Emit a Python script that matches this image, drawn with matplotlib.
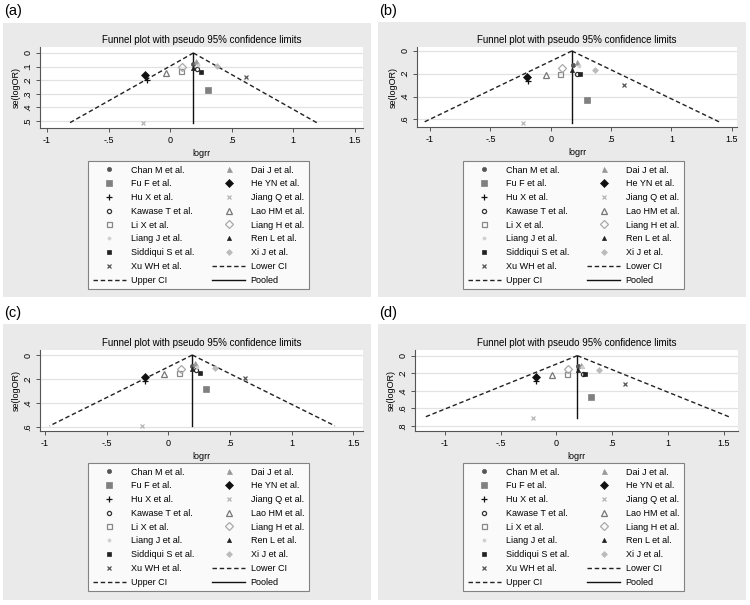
import matplotlib
matplotlib.use("Agg")
import matplotlib.pyplot as plt
from matplotlib.patches import Rectangle

plt.rcParams['font.family'] = ['Liberation Sans', 'DejaVu Sans']
plt.rcParams['font.size'] = 6.5

# Studies, in legend order
studies = ['Chan M et al.', 'Dai J et al.', 'Fu F et al.', 'He YN et al.', 'Hu X et al.',
           'Jiang Q et al.', 'Kawase T et al.', 'Lao HM et al.', 'Li X et al.', 'Liang H et al.',
           'Liang J et al.', 'Ren L et al.', 'Siddiqui S et al.', 'Xi J et al.', 'Xu WH et al.']

# logrr and se(logOR) per panel
logrr_a = [0.19, 0.21, 0.31, -0.20, -0.19, -0.22, 0.22, -0.035, 0.09, 0.10, 0.23, 0.19, 0.255, 0.38, 0.62]
se_a = [0.08, 0.06, 0.27, 0.16, 0.20, 0.515, 0.115, 0.145, 0.13, 0.10, 0.09, 0.11, 0.137, 0.096, 0.18]
logrr_b = [0.185, 0.215, 0.30, -0.20, -0.19, -0.23, 0.218, -0.04, 0.08, 0.09, 0.23, 0.18, 0.243, 0.367, 0.61]
se_b = [0.12, 0.10, 0.435, 0.225, 0.265, 0.63, 0.205, 0.214, 0.202, 0.152, 0.13, 0.167, 0.205, 0.167, 0.30]
logrr_c = [0.195, 0.217, 0.31, -0.187, -0.185, -0.216, 0.225, -0.032, 0.087, 0.10, 0.23, 0.195, 0.257, 0.379, 0.62]
se_c = [0.09, 0.07, 0.286, 0.18, 0.22, 0.59, 0.125, 0.158, 0.153, 0.114, 0.10, 0.12, 0.153, 0.11, 0.19]
logrr_d = [0.196, 0.218, 0.315, -0.186, -0.183, -0.21, 0.236, -0.037, 0.092, 0.10, 0.23, 0.19, 0.257, 0.383, 0.62]
se_d = [0.12, 0.105, 0.465, 0.243, 0.29, 0.705, 0.213, 0.225, 0.21, 0.154, 0.13, 0.16, 0.213, 0.16, 0.32]

pooled = [0.19, 0.175, 0.195, 0.188]
panel_names = ['(a)', '(b)', '(c)', '(d)']

x_ticks = [-1, -0.5, 0, 0.5, 1, 1.5]
x_tick_labels = ['-1', '-.5', '0', '.5', '1', '1.5']
y_ticks_a = [0, 0.1, 0.2, 0.3, 0.4, 0.5]
y_labels_a = ['0', '.1', '.2', '.3', '.4', '.5']
y_ticks_bc = [0, 0.2, 0.4, 0.6]
y_labels_bc = ['0', '.2', '.4', '.6']
y_ticks_d = [0, 0.2, 0.4, 0.6, 0.8]
y_labels_d = ['0', '.2', '.4', '.6', '.8']

# marker styles: marker, size, face, edge
styles = {
    'Chan M et al.': ('o', 3.0, '#555555', '#555555'),
    'Dai J et al.': ('^', 3.6, '#999999', '#999999'),
    'Fu F et al.': ('s', 4.0, '#808080', '#808080'),
    'He YN et al.': ('D', 4.2, '#111111', '#111111'),
    'Hu X et al.': ('+', 4.6, '#111111', '#111111'),
    'Jiang Q et al.': ('x', 3.0, '#b5b5b5', '#b5b5b5'),
    'Kawase T et al.': ('o', 3.0, 'none', '#333333'),
    'Lao HM et al.': ('^', 3.8, 'none', '#777777'),
    'Li X et al.': ('s', 3.6, 'none', '#888888'),
    'Liang H et al.': ('D', 4.0, 'none', '#aaaaaa'),
    'Liang J et al.': ('o', 2.2, '#d0d0d0', '#d0d0d0'),
    'Ren L et al.': ('^', 3.0, '#222222', '#222222'),
    'Siddiqui S et al.': ('s', 2.8, '#222222', '#222222'),
    'Xi J et al.': ('D', 3.0, '#bbbbbb', '#bbbbbb'),
    'Xu WH et al.': ('x', 2.4, '#555555', '#555555'),
}

# panel layout in pixels: gray box (l,t,r,b), axes box (l,t,r,b), xlim, ylim, legend (left, top)
W, H = 750, 605
panels = [
    dict(bg=(3, 23, 371, 297), ax=(40, 47, 363, 128), xlim=(-1.057, 1.569), ylim=(0.551, -0.044),
         leg=(88, 161), lab=(4, 11), x=logrr_a, se=se_a, yt=y_ticks_a, yl=y_labels_a),
    dict(bg=(378, 22, 746, 297), ax=(417, 47, 737, 127), xlim=(-1.108, 1.543), ylim=(0.668, -0.035),
         leg=(463, 161), lab=(379, 11), x=logrr_b, se=se_b, yt=y_ticks_bc, yl=y_labels_bc),
    dict(bg=(3, 324, 371, 600), ax=(40, 350, 363, 431), xlim=(-1.04, 1.579), ylim=(0.633, -0.042),
         leg=(88, 463), lab=(4, 313), x=logrr_c, se=se_c, yt=y_ticks_bc, yl=y_labels_bc),
    dict(bg=(378, 324, 746, 600), ax=(415, 350, 738, 431), xlim=(-1.269, 1.63), ylim=(0.856, -0.064),
         leg=(463, 463), lab=(379, 313), x=logrr_d, se=se_d, yt=y_ticks_d, yl=y_labels_d),
]

fig = plt.figure(figsize=(7.5, 6.05), dpi=100)
fig.patch.set_facecolor('white')

dash = (0, (3.2, 2.0))

for i, p in enumerate(panels):
    l, t, r, b = p['bg']
    fig.patches.append(Rectangle((l / W, 1 - b / H), (r - l) / W, (b - t) / H,
                                 transform=fig.transFigure, facecolor='#eaeaea',
                                 edgecolor='none', zorder=-5))
    fig.text(p['lab'][0] / W, 1 - p['lab'][1] / H, panel_names[i], fontsize=10.5,
             ha='left', va='center')

    l, t, r, b = p['ax']
    ax = fig.add_axes([l / W, 1 - b / H, (r - l) / W, (b - t) / H])
    ax.set_facecolor('white')
    ax.set_xlim(*p['xlim'])
    ax.set_ylim(*p['ylim'])

    for yv in p['yt']:
        ax.axhline(yv, color='#e2e2e2', lw=0.9, zorder=0)

    mu = pooled[i]
    smax = max(p['se'])
    lo, = ax.plot([mu, mu - 1.96 * smax], [0, smax], color='#222222', lw=1.0, ls=dash)
    up, = ax.plot([mu, mu + 1.96 * smax], [0, smax], color='#222222', lw=1.0, ls=dash)
    pl, = ax.plot([mu, mu], [0, smax], color='#111111', lw=1.0)

    handles = {}
    for name, xv, sv in zip(studies, p['x'], p['se']):
        m, ms, fc, ec = styles[name]
        h, = ax.plot([xv], [sv], ls='none', marker=m, ms=ms, mfc=fc, mec=ec,
                     mew=0.9 if fc == 'none' or m in '+x' else 0.5, zorder=3)
        handles[name] = h

    for s in ['top', 'right']:
        ax.spines[s].set_visible(False)
    for s in ['left', 'bottom']:
        ax.spines[s].set_color('#555555')
        ax.spines[s].set_linewidth(0.8)
    ax.set_xticks(x_ticks)
    ax.set_xticklabels(x_tick_labels)
    ax.set_yticks(p['yt'])
    ax.set_yticklabels(p['yl'], rotation=90, va='center')
    ax.tick_params(length=3, width=0.7, color='#555555', pad=2.5, labelsize=6.5)
    ax.set_xlabel('logrr', fontsize=6.5, labelpad=3)
    ax.set_ylabel('se(logOR)', fontsize=6.5, labelpad=2)
    ax.set_title('Funnel plot with pseudo 95% confidence limits', fontsize=7, pad=3)

    col1 = ['Chan M et al.', 'Fu F et al.', 'Hu X et al.', 'Kawase T et al.', 'Li X et al.',
            'Liang J et al.', 'Siddiqui S et al.', 'Xu WH et al.']
    col2 = ['Dai J et al.', 'He YN et al.', 'Jiang Q et al.', 'Lao HM et al.', 'Liang H et al.',
            'Ren L et al.', 'Xi J et al.']
    hs = [handles[n] for n in col1] + [up] + [handles[n] for n in col2] + [lo, pl]
    ls = col1 + ['Upper CI'] + col2 + ['Lower CI', 'Pooled']
    leg = ax.legend(hs, ls, ncol=2, loc='upper left',
                    bbox_to_anchor=(p['leg'][0] / W, 1 - p['leg'][1] / H),
                    bbox_transform=fig.transFigure, borderaxespad=0, fontsize=6.5,
                    numpoints=1, handlelength=3.7, handletextpad=0.6, columnspacing=1.9,
                    labelspacing=0.53, borderpad=0.5, frameon=True, fancybox=False)
    leg.get_frame().set_edgecolor('#666666')
    leg.get_frame().set_linewidth(0.8)
    leg.get_frame().set_facecolor('white')

fig.savefig('out.png', dpi=100)
